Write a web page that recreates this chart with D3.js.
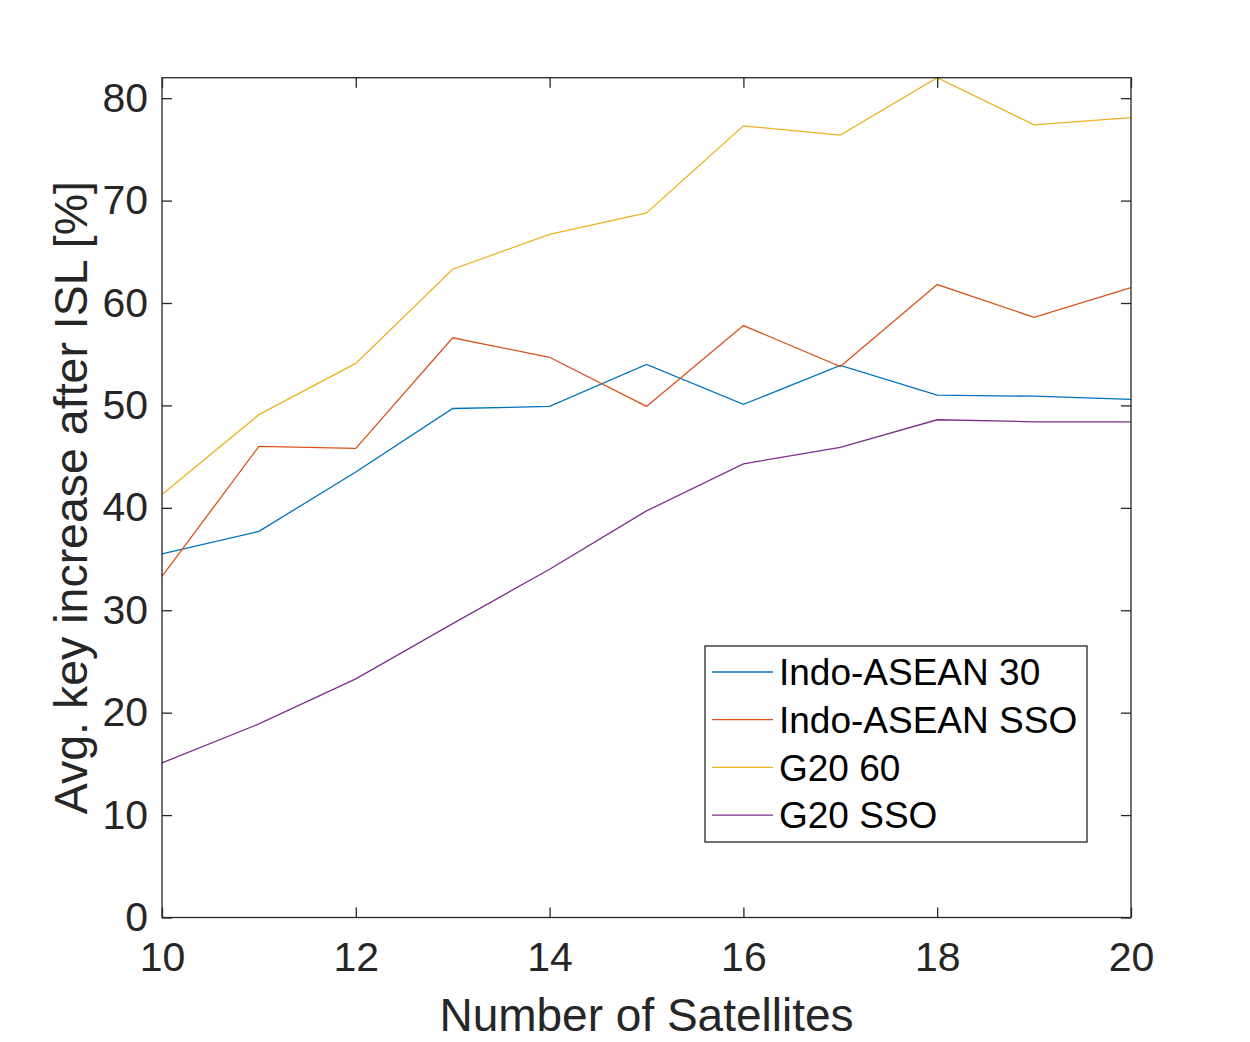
<!DOCTYPE html>
<html>
<head>
<meta charset="utf-8">
<style>
  body { margin: 0; background: #fff; }
  svg { display: block; font-family: "Liberation Sans", Arial, Helvetica, sans-serif; }
</style>
</head>
<body>
<div id="chart"></div>
<script src="https://d3js.org/d3.v7.min.js"></script>
<script>
  // values
  const satellites = [10, 11, 12, 13, 14, 15, 16, 17, 18, 19, 20];
  const indoAsean30 = [35.5, 37.7, 43.5, 49.7, 49.9, 54.0, 50.1, 53.9, 51.0, 50.9, 50.6];
  const indoAseanSSO = [33.3, 46.0, 45.8, 56.6, 54.7, 49.9, 57.8, 53.8, 61.8, 58.6, 61.5];
  const g20_60 = [41.3, 49.1, 54.1, 63.3, 66.7, 68.8, 77.3, 76.4, 82.0, 77.4, 78.1];
  const g20SSO = [15.1, 18.9, 23.3, 28.7, 34.0, 39.7, 44.3, 45.9, 48.6, 48.4, 48.4];
  const seriesNames = ["Indo-ASEAN 30", "Indo-ASEAN SSO", "G20 60", "G20 SSO"];
  const seriesColors = ["#0072BD", "#D95319", "#EDB120", "#7E2F8E"];
  const xTicks = [10, 12, 14, 16, 18, 20];
  const yTicks = [0, 10, 20, 30, 40, 50, 60, 70, 80];

  const series = [indoAsean30, indoAseanSSO, g20_60, g20SSO];

  const W = 1250, H = 1042;
  const margin = { top: 77.7, right: 119, bottom: 124.5, left: 162 };
  const width = W - margin.left - margin.right,
        height = H - margin.top - margin.bottom;
  const axisColor = "#262626";

  const svg = d3.select("#chart").append("svg")
    .attr("width", W)
    .attr("height", H);

  const g = svg.append("g")
    .attr("transform", `translate(${margin.left},${margin.top})`);

  const x = d3.scaleLinear().domain([10, 20]).range([0, width]);
  const y = d3.scaleLinear().domain([0, 82]).range([height, 0]);

  // lines
  const line = d3.line()
    .x((d, i) => x(satellites[i]))
    .y(d => y(d));

  series.forEach((s, k) => {
    g.append("path")
      .datum(s)
      .attr("fill", "none")
      .attr("stroke", seriesColors[k])
      .attr("stroke-width", 1.3)
      .attr("d", line);
  });

  // axes (ticks inward, box on)
  const styleAxis = sel => {
    sel.select(".domain").remove();
    sel.selectAll(".tick line").attr("stroke", axisColor).attr("stroke-width", 1.3);
    sel.selectAll("text").attr("fill", axisColor).attr("font-size", 41)
      .attr("font-family", "'Liberation Sans', Arial, sans-serif");
  };

  g.append("g")
    .attr("transform", `translate(0,${height})`)
    .call(d3.axisBottom(x).tickValues(xTicks).tickSize(-10).tickPadding(24).tickFormat(d3.format("d")))
    .call(styleAxis);

  g.append("g")
    .call(d3.axisLeft(y).tickValues(yTicks).tickSize(-10).tickPadding(14).tickFormat(d3.format("d")))
    .call(styleAxis);

  g.append("g")
    .call(d3.axisTop(x).tickValues(xTicks).tickSize(-10).tickFormat(""))
    .call(styleAxis);

  g.append("g")
    .attr("transform", `translate(${width},0)`)
    .call(d3.axisRight(y).tickValues(yTicks).tickSize(-10).tickFormat(""))
    .call(styleAxis);

  g.append("rect")
    .attr("width", width)
    .attr("height", height)
    .attr("fill", "none")
    .attr("stroke", axisColor)
    .attr("stroke-width", 1.3);

  // axis labels
  svg.append("text")
    .attr("x", margin.left + width / 2)
    .attr("y", 1031)
    .attr("text-anchor", "middle")
    .attr("font-size", 46)
    .attr("fill", axisColor)
    .text("Number of Satellites");

  svg.append("text")
    .attr("transform", `translate(87,${margin.top + height / 2}) rotate(-90)`)
    .attr("text-anchor", "middle")
    .attr("font-size", 46.5)
    .attr("fill", axisColor)
    .text("Avg. key increase after ISL [%]");

  // legend
  const legend = svg.append("g").attr("transform", "translate(705,646)");
  legend.append("rect")
    .attr("width", 382)
    .attr("height", 196)
    .attr("fill", "#fff")
    .attr("stroke", axisColor)
    .attr("stroke-width", 1.3);

  seriesNames.forEach((name, k) => {
    const ry = 26 + k * 47.7;
    legend.append("line")
      .attr("x1", 7).attr("x2", 68)
      .attr("y1", ry).attr("y2", ry)
      .attr("stroke", seriesColors[k])
      .attr("stroke-width", 1.3);
    legend.append("text")
      .attr("x", 74)
      .attr("y", ry)
      .attr("dy", "0.36em")
      .attr("font-size", 37)
      .attr("fill", "#000")
      .text(name);
  });
</script>
</body>
</html>
